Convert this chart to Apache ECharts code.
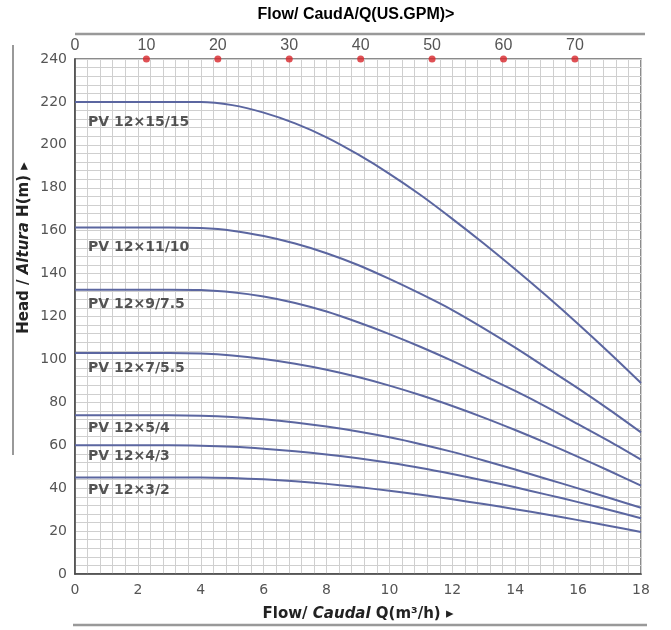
<!DOCTYPE html>
<html>
<head>
<meta charset="utf-8">
<script src="https://cdn.jsdelivr.net/npm/echarts@6/dist/echarts.min.js"></script>
<style>
html,body{margin:0;padding:0;background:#fff;}
#c{width:671px;height:630px;}
</style>
</head>
<body>
<div id="c"></div>
<script>
// Flow (m3/h)
var flow = [0,1,2,3,4,5,6,7,8,9,10,11,12,13,14,15,16,17,18];
var seriesNames = ['PV 12×15/15','PV 12×11/10','PV 12×9/7.5','PV 12×7/5.5','PV 12×5/4','PV 12×4/3','PV 12×3/2'];
var h_15_15 = [220,220,220,220,220,218.5,215,210,203.5,195.5,186.5,176.5,165.5,154,142,129.5,116.5,103,89];
var h_11_10 = [161.5,161.5,161.5,161.5,161.2,160,157.5,154,149.5,144,137.5,130.5,123,114.5,105.5,96,86.5,76.5,66];
var h_9_75  = [132.5,132.5,132.5,132.5,132.3,131.3,129.3,126.3,122.3,117.3,111.8,105.8,99.3,92.3,85.3,77.8,69.8,61.8,53.3];
var h_7_55  = [103,103,103,103,102.7,101.8,100.2,98,95.2,91.8,87.8,83.3,78.3,72.9,67.1,61,54.6,48,41.2];
var h_5_4   = [74,74,74,74,73.8,73.2,72.1,70.6,68.7,66.4,63.7,60.5,56.9,52.9,48.7,44.3,39.9,35.4,30.9];
var h_4_3   = [60,60,60,60,59.8,59.3,58.4,57.2,55.7,53.9,51.8,49.4,46.6,43.6,40.4,37,33.5,29.8,26];
var h_3_2   = [45,45,45,45,45,44.7,44.1,43.2,42,40.5,38.8,36.9,34.8,32.6,30.2,27.7,25.1,22.4,19.6];
var curves = [h_15_15,h_11_10,h_9_75,h_7_55,h_5_4,h_4_3,h_3_2];
// top axis (US GPM) marks
var gpmTicks = [10,20,30,40,50,60,70];
var headMax = 240;
var flowMax = 18;
var gpmPerM3h = 4.4029;

var labelOffsetY = [20,20,15,15,13,11,13];
var lineColor = '#5b66a0';
var gridColor = '#cfcfcf';
var tickColor = '#555';
var font = 'DejaVu Sans';

var series = [];
curves.forEach(function(vals, i){
  series.push({
    type:'line', name: seriesNames[i], xAxisIndex:0, yAxisIndex:0,
    data: flow.map(function(q,j){return [q, vals[j]];}),
    smooth: 0.3, showSymbol:false, symbol:'none',
    lineStyle:{color:lineColor, width:2}, silent:true, z:3
  });
  series.push({
    type:'scatter', xAxisIndex:0, yAxisIndex:0, symbolSize:0, silent:true, z:4,
    data:[[flow[0], vals[0]]],
    label:{show:true, position:'right', distance:0, offset:[13, labelOffsetY[i]],
      formatter: seriesNames[i], color:'#2a2a2a', fontFamily:font, fontWeight:'bold', fontSize:14}
  });
});
series.push({
  type:'scatter', xAxisIndex:1, yAxisIndex:0, clip:false, z:5, silent:true,
  symbolSize:7, itemStyle:{color:'#d8262b'},
  data: gpmTicks.map(function(g){return [g, headMax];})
});

var chart = echarts.init(document.getElementById('c'), null, {renderer:'canvas'});
chart.setOption({
  animation:false,
  backgroundColor:'#fff',
  grid:{left:75, right:30, top:59, bottom:56, show:true, borderColor:'#666', borderWidth:1.5, backgroundColor:'transparent'},
  xAxis:[{
    type:'value', min:0, max:flowMax, interval:2, position:'bottom',
    axisLine:{show:true, lineStyle:{color:'#444', width:1.5}},
    axisTick:{show:false},
    axisLabel:{color:tickColor, fontFamily:font, fontSize:14, margin:9},
    splitLine:{show:true, lineStyle:{color:gridColor, width:1}},
    minorTick:{show:false, splitNumber:5},
    minorSplitLine:{show:true, lineStyle:{color:gridColor, width:1}}
  },{
    type:'value', min:0, max:flowMax*gpmPerM3h, interval:10, position:'top',
    axisLine:{show:false}, axisTick:{show:false}, splitLine:{show:false},
    axisLabel:{color:tickColor, fontFamily:'Liberation Sans Narrow, Liberation Sans', fontSize:16, margin:5, showMaxLabel:false}
  }],
  yAxis:[{
    type:'value', min:0, max:headMax, interval:20,
    axisLine:{show:true, lineStyle:{color:'#444', width:1.5}},
    axisTick:{show:false},
    axisLabel:{color:tickColor, fontFamily:font, fontSize:14, margin:8},
    splitLine:{show:true, lineStyle:{color:gridColor, width:1}},
    minorTick:{show:false, splitNumber:5},
    minorSplitLine:{show:true, lineStyle:{color:gridColor, width:1}}
  }],
  graphic:[
    {type:'text', x:356, y:15, z:10, style:{text:'Flow/ CaudA/Q(US.GPM)>', fill:'#000', font:'bold 16px "Liberation Sans"', align:'center', verticalAlign:'middle'}},
    {type:'line', z:10, shape:{x1:75, y1:34, x2:645, y2:34}, style:{stroke:'#999', lineWidth:2.5}},
    {type:'text', x:358, y:614, z:10, style:{
      text:'{b|Flow/ }{i|Caudal}{b| Q(m³/h) ▸}', align:'center', verticalAlign:'middle',
      rich:{b:{fontFamily:font, fontWeight:'bold', fontSize:15, fill:'#222', color:'#222'},
            i:{fontFamily:font, fontWeight:'bold', fontStyle:'italic', fontSize:15, fill:'#222', color:'#222'}}}},
    {type:'line', z:10, shape:{x1:73, y1:625, x2:647, y2:625}, style:{stroke:'#999', lineWidth:2.5}},
    {type:'text', x:24, y:248, rotation:Math.PI/2, z:10, style:{
      text:'{b|Head / }{i|Altura}{b| H(m) ▸}', align:'center', verticalAlign:'middle',
      rich:{b:{fontFamily:font, fontWeight:'bold', fontSize:15, fill:'#222', color:'#222'},
            i:{fontFamily:font, fontWeight:'bold', fontStyle:'italic', fontSize:15, fill:'#222', color:'#222'}}}},
    {type:'line', z:10, shape:{x1:13, y1:45, x2:13, y2:455}, style:{stroke:'#777', lineWidth:1.5}}
  ],
  series: series
});
</script>
</body>
</html>
